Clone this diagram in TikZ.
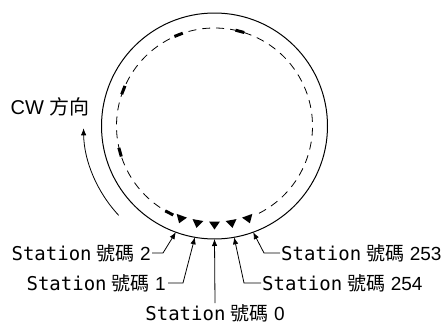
\documentclass[tikz,border=0pt]{standalone}
\usepackage{fontspec}
\setmainfont{Liberation Sans}
\newfontfamily\cjk{Noto Sans CJK TC}
\newfontfamily\mono{DejaVu Sans Mono}
\usetikzlibrary{arrows.meta,calc}
\begin{document}
\begin{tikzpicture}[x=1pt,y=1pt,
  lab/.style={font=\fontsize{19}{22}\selectfont, inner sep=0pt},
  conn/.style={line width=0.8pt, -{Latex[length=7pt,width=5.5pt]}},
  thickdash/.style={line width=3pt},
  ring/.style={line width=1pt},
  dring/.style={line width=0.8pt, dash pattern=on 8pt off 6pt}]
\useasboundingbox (0,0) rectangle (447,325);
\coordinate (C) at (214.5,199);
% outer ring
\draw[ring] (C) circle (113pt);
% inner dashed ring
\draw[dring] ($(C)+(-63:98)$) arc[start angle=-63, end angle=243, radius=98pt];
% thick dashes
\foreach \a in {75,111.5,158.5,195.5,242.5}
  \draw[thickdash, shift={($(C)+(\a:98)$)}, rotate=\a] (0,-4.5) -- (0,4.5);
% triangles
\foreach \a in {250,260,270,280,290}
  \fill[shift={($(C)+(\a:99)$)}, rotate=\a] (4.5,0) -- (-3.5,5.5) -- (-3.5,-5.5) -- cycle;
% arrow tips on outer ring
\foreach \a/\n in {250/2,260/1,270/0,280/254,290/253}
  \coordinate (t\n) at ($(C)+(\a:113)$);
% labels
\node[lab, anchor=east] (l2) at (151,72) {{\mono Station} {\cjk 號碼} 2};
\node[lab, anchor=east] (l1) at (166,42) {{\mono Station} {\cjk 號碼} 1};
\node[lab] (l0) at (215,12) {{\mono Station} {\cjk 號碼} 0};
\node[lab, anchor=west] (l253) at (281,72) {{\mono Station} {\cjk 號碼} 253};
\node[lab, anchor=west] (l254) at (262,42) {{\mono Station} {\cjk 號碼} 254};
% connectors
\draw[conn] ([xshift=1pt]l2.east) -- ++(11,0) -- (t2);
\draw[conn] ([xshift=2pt]l1.east) -- ++(15,0) -- (t1);
\draw[conn] ([yshift=1pt]l0.north) -- (t0);
\draw[conn] ([xshift=-1pt]l254.west) -- ++(-17,0) -- (t254);
\draw[conn] ([xshift=-1pt]l253.west) -- ++(-16,0) -- (t253);
% CW
\node[font=\fontsize{20}{24}\selectfont, inner sep=0pt] (cw) at (50,218) {CW {\cjk 方向}};
\coordinate (cwstart) at ($(C)+(223:131)$);
\draw[conn] (cwstart) arc[start angle=223, end angle=181, radius=131pt];
\end{tikzpicture}
\end{document}
